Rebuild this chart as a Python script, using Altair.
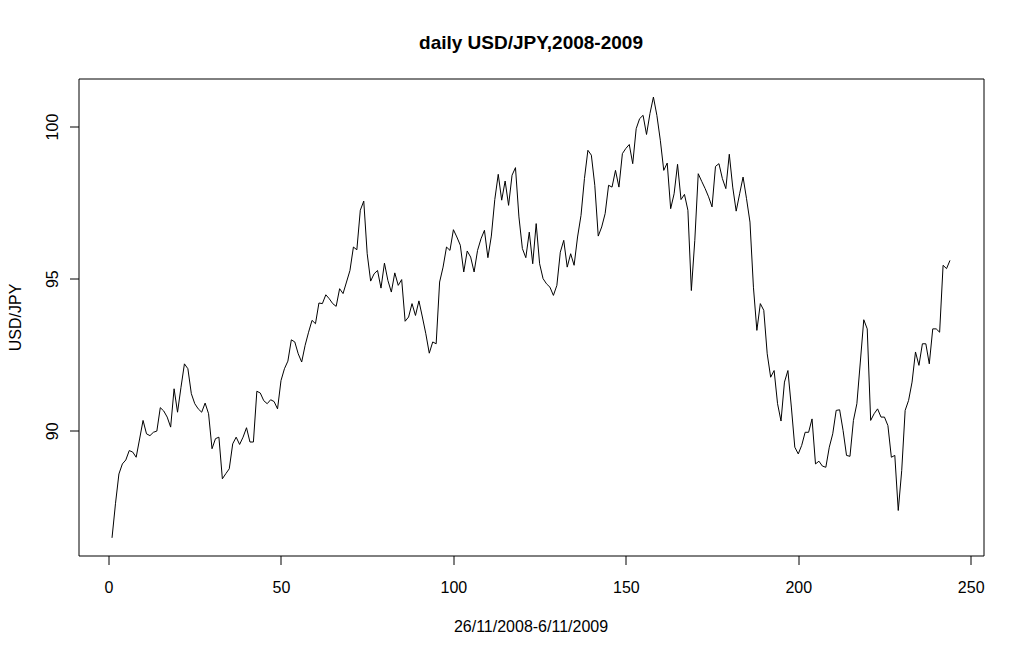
import altair as alt
import pandas as pd

# Daily USD/JPY closing rates, 26/11/2008 - 6/11/2009
usdjpy = [
    86.48, 87.60, 88.58, 88.91, 89.04, 89.35, 89.30, 89.13, 89.73, 90.34,
    89.90, 89.84, 89.95, 89.99, 90.76, 90.65, 90.45, 90.12, 91.38, 90.61,
    91.43, 92.20, 92.04, 91.22, 90.89, 90.72, 90.61, 90.91, 90.56, 89.41,
    89.74, 89.79, 88.42, 88.59, 88.75, 89.57, 89.79, 89.55, 89.79, 90.10,
    89.63, 89.63, 91.30, 91.24, 90.99, 90.89, 91.02, 90.96, 90.72, 91.65,
    92.04, 92.29, 92.99, 92.92, 92.53, 92.26, 92.81, 93.24, 93.63, 93.52,
    94.20, 94.18, 94.47, 94.34, 94.18, 94.09, 94.67, 94.51, 94.89, 95.27,
    96.04, 95.95, 97.25, 97.55, 95.82, 94.92, 95.16, 95.27, 94.69, 95.51,
    94.94, 94.56, 95.19, 94.78, 94.97, 93.60, 93.74, 94.18, 93.79, 94.27,
    93.74, 93.19, 92.55, 92.92, 92.86, 94.89, 95.38, 96.04, 95.93, 96.61,
    96.37, 96.10, 95.22, 95.91, 95.71, 95.22, 95.93, 96.31, 96.59, 95.69,
    96.40, 97.60, 98.43, 97.58, 98.21, 97.41, 98.40, 98.65, 97.03, 95.99,
    95.69, 96.53, 95.49, 96.81, 95.49, 95.00, 94.83, 94.72, 94.45, 94.78,
    95.87, 96.26, 95.38, 95.82, 95.44, 96.37, 97.08, 98.29, 99.22, 99.06,
    98.07, 96.40, 96.70, 97.14, 98.07, 98.01, 98.56, 98.01, 99.11, 99.28,
    99.41, 98.78, 99.93, 100.26, 100.37, 99.74, 100.43, 100.97, 100.37, 99.55,
    98.56, 98.80, 97.30, 97.79, 98.76, 97.60, 97.77, 97.25, 94.61, 96.26,
    98.45, 98.20, 97.96, 97.69, 97.36, 98.69, 98.78, 98.29, 97.96, 99.09,
    98.01, 97.22, 97.79, 98.34, 97.63, 96.86, 94.72, 93.30, 94.18, 93.96,
    92.53, 91.76, 91.98, 90.89, 90.32, 91.60, 91.98, 90.78, 89.46, 89.24,
    89.52, 89.95, 89.95, 90.39, 88.91, 89.00, 88.84, 88.80, 89.46, 89.90,
    90.67, 90.69, 90.01, 89.19, 89.16, 90.34, 90.89, 92.26, 93.65, 93.35,
    90.34, 90.56, 90.72, 90.45, 90.45, 90.17, 89.13, 89.19, 87.38, 88.69,
    90.67, 91.00, 91.60, 92.59, 92.15, 92.86, 92.86, 92.20, 93.35, 93.35,
    93.24, 95.44, 95.33, 95.60,
]
day_index = list(range(1, len(usdjpy) + 1))
x_ticks = [0, 50, 100, 150, 200, 250]
y_ticks = [90, 95, 100]

df = pd.DataFrame({"day": day_index, "rate": usdjpy})

FONT = "Liberation Sans"

chart = (
    alt.Chart(df)
    .mark_line(color="black", strokeWidth=1)
    .encode(
        x=alt.X(
            "day:Q",
            scale=alt.Scale(domain=[-8.72, 253.72], nice=False, zero=False),
            axis=alt.Axis(
                values=x_ticks,
                title="26/11/2008-6/11/2009",
                grid=False,
                domain=False,
                ticks=True,
                tickSize=9,
                tickColor="black",
                tickWidth=1,
                labelFont=FONT,
                labelFontSize=16,
                labelColor="black",
                labelBaseline="alphabetic",
                labelPadding=28,
                labelFlush=False,
                titleFont=FONT,
                titleFontSize=16,
                titleFontWeight="normal",
                titleColor="black",
                titleBaseline="alphabetic",
                titleX=452,
                titleY=76,
                titleAlign="center",
            ),
        ),
        y=alt.Y(
            "rate:Q",
            scale=alt.Scale(domain=[85.9, 101.58], nice=False, zero=False),
            axis=alt.Axis(
                values=y_ticks,
                title="USD/JPY",
                grid=False,
                domain=False,
                ticks=True,
                tickSize=9,
                tickColor="black",
                tickWidth=1,
                labelFont=FONT,
                labelFontSize=16,
                labelColor="black",
                labelAngle=270,
                labelAlign="center",
                labelBaseline="alphabetic",
                labelPadding=12,
                labelFlush=False,
                titleFont=FONT,
                titleFontSize=16,
                titleFontWeight="normal",
                titleColor="black",
                titleAngle=270,
                titleAlign="center",
                titleBaseline="alphabetic",
                titleX=-57.6,
                titleY=238.4,
            ),
        ),
    )
    .properties(
        width=905,
        height=477,
        background="white",
        title=alt.TitleParams(
            text="daily USD/JPY,2008-2009",
            font=FONT,
            fontSize=19,
            fontWeight="bold",
            color="black",
            anchor="middle",
            baseline="alphabetic",
            offset=11,
        ),
        padding={"left": 70.5, "top": 70.5, "right": 25, "bottom": 88},
        autosize=alt.AutoSizeParams(type="none"),
    )
    .configure_view(stroke="black", strokeWidth=1)
)

chart.save("out.html", embed_options={"renderer": "svg", "actions": False})
